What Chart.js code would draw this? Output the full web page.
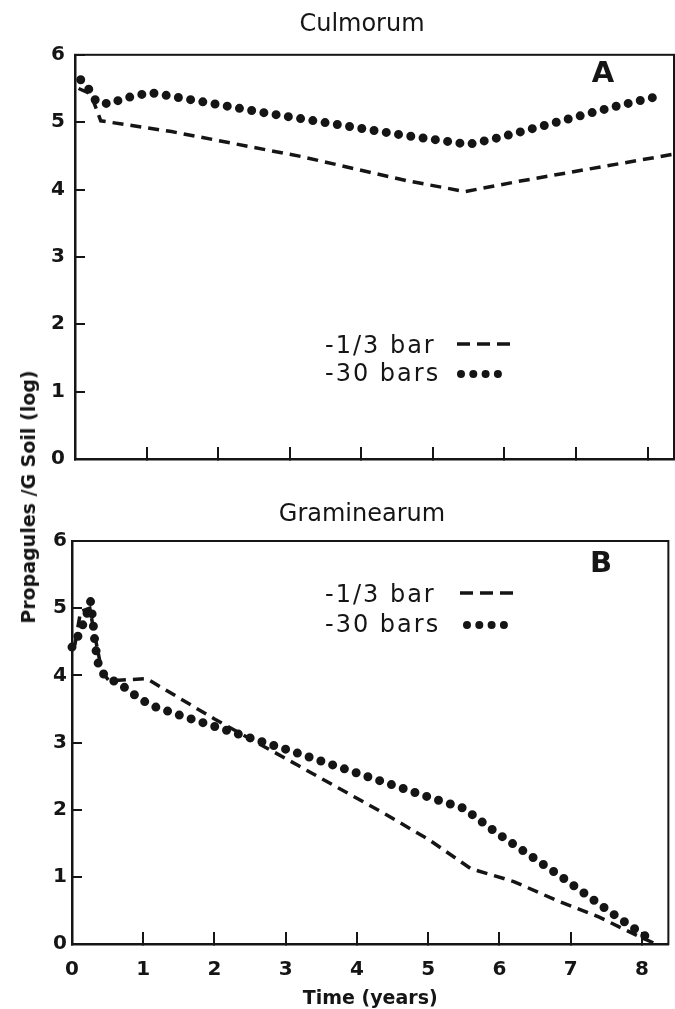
<!DOCTYPE html>
<html>
<head>
<meta charset="utf-8">
<script src="https://cdn.jsdelivr.net/npm/chart.js@4.4.1/dist/chart.umd.min.js"></script>
<style>
  html, body { margin: 0; padding: 0; background: #fff; }
  #page { position: relative; width: 675px; height: 1009px; overflow: hidden; background: #fff; }
  #page canvas { position: absolute; left: 0; }
  #chartA { top: 0; width: 675px; height: 480px; }
  #chartB { top: 480px; width: 675px; height: 529px; }
  #yTitle {
    position: absolute; left: 28px; top: 497px;
    transform: translate(-50%, -50%) rotate(-90deg);
    font: bold 19px 'DejaVu Sans', sans-serif; color: #151515; white-space: nowrap;
  }
</style>
</head>
<body>
<div id="page">
  <canvas id="chartA" width="675" height="480"></canvas>
  <canvas id="chartB" width="675" height="529"></canvas>
  <div id="yTitle">Propagules /G Soil (log)</div>
</div>
<script>
const INK = '#151515';
const FONT = "'DejaVu Sans', sans-serif";

// Panel A - Culmorum (time in years, log propagules / g soil)
const timeA_wet = [0.05, 0.22, 0.36, 1.35, 3.16, 4.64, 5.45, 6.19, 8.34];
const propA_wet = [5.5, 5.42, 5.02, 4.86, 4.49, 4.13, 3.97, 4.12, 4.52];
const timeA_dry = [0.08, 0.2, 0.3, 0.49, 0.67, 1.05, 2.7, 4.57, 5.5, 5.92, 6.59, 7.5, 8.09];
const propA_dry = [5.63, 5.48, 5.3, 5.27, 5.35, 5.44, 5.13, 4.81, 4.67, 4.77, 4.96, 5.22, 5.37];

// Panel B - Graminearum
const timeB_wet = [0.04, 0.12, 0.25, 0.3, 0.42, 0.52, 1.05, 2.0, 3.17, 4.37, 5.0, 5.6, 6.2, 6.8, 7.4, 8.0, 8.2];
const propB_wet = [4.45, 4.95, 5.0, 4.7, 4.05, 3.92, 3.95, 3.35, 2.66, 1.95, 1.56, 1.12, 0.93, 0.65, 0.4, 0.09, 0.0];
const timeB_dry = [0.0, 0.07, 0.14, 0.22, 0.26, 0.29, 0.32, 0.36, 0.43, 0.53, 0.7, 0.85, 1.0, 1.17, 1.5, 2.0, 2.67, 3.03, 3.93, 4.97, 5.5, 5.94, 6.87, 7.51, 8.0, 8.17];
const propB_dry = [4.42, 4.55, 4.72, 4.95, 5.1, 4.85, 4.5, 4.2, 4.03, 3.95, 3.85, 3.73, 3.62, 3.53, 3.41, 3.24, 3.01, 2.89, 2.57, 2.2, 2.02, 1.67, 1.0, 0.51, 0.15, 0.03];

const seriesLabels = ['-1/3 bar', '-30 bars'];
const panelTitles = ['Culmorum', 'Graminearum'];
const panelLetters = ['A', 'B'];
const xLabel = 'Time (years)';
const xMax = 8.37;
const yMax = 6;

const toPoints = (xs, ys) => xs.map((x, i) => ({ x: x, y: ys[i] }));

// frame, panel letter and the hand-lettered legend
const panelDecor = {
  id: 'panelDecor',
  afterDraw(chart, args, opts) {
    const ctx = chart.ctx;
    const { left, top, right, bottom } = chart.chartArea;
    ctx.save();
    ctx.strokeStyle = INK;
    ctx.fillStyle = INK;
    ctx.lineWidth = 2;
    ctx.strokeRect(left, top, right - left, bottom - top);

    ctx.font = 'bold 29px ' + FONT;
    ctx.textAlign = 'center';
    ctx.textBaseline = 'middle';
    ctx.fillText(opts.letter, opts.letterX, opts.letterY);

    ctx.font = '24px ' + FONT;
    ctx.letterSpacing = '2px';
    ctx.textAlign = 'left';
    ctx.fillText(seriesLabels[0], opts.legendX, opts.legendY[0]);
    ctx.fillText(seriesLabels[1], opts.legendX, opts.legendY[1]);
    ctx.letterSpacing = '0px';

    ctx.lineWidth = 3.5;
    ctx.setLineDash([13, 7]);
    ctx.beginPath();
    ctx.moveTo(opts.dashFrom, opts.legendY[0] - 3);
    ctx.lineTo(opts.dashFrom + 53, opts.legendY[0] - 3);
    ctx.stroke();

    ctx.lineWidth = 8;
    ctx.lineCap = 'round';
    ctx.setLineDash([0, 12.3]);
    ctx.beginPath();
    ctx.moveTo(opts.dotFrom, opts.legendY[1] - 1);
    ctx.lineTo(opts.dotFrom + 37.5, opts.legendY[1] - 1);
    ctx.stroke();
    ctx.restore();
  }
};

function makePanel(canvasId, p) {
  return new Chart(document.getElementById(canvasId).getContext('2d'), {
    type: 'scatter',
    data: {
      datasets: [{
        label: seriesLabels[0],
        data: toPoints(p.wetX, p.wetY),
        showLine: true,
        borderColor: INK,
        borderWidth: 3.5,
        borderDash: [11, 7],
        pointRadius: 0,
        clip: false
      }, {
        label: seriesLabels[1],
        data: toPoints(p.dryX, p.dryY),
        showLine: true,
        borderColor: INK,
        borderWidth: 9,
        borderDash: [0, 12.4],
        borderCapStyle: 'round',
        borderJoinStyle: 'round',
        pointRadius: 0,
        clip: false
      }]
    },
    options: {
      responsive: false,
      animation: false,
      layout: { padding: { left: 50, right: 1, top: 0, bottom: 0 } },
      plugins: {
        legend: { display: false },
        tooltip: { enabled: false },
        title: {
          display: true,
          text: p.title,
          color: INK,
          font: { family: FONT, size: 24, weight: 'normal', lineHeight: 1.2 },
          padding: { top: p.titleTop, bottom: p.titleBottom }
        },
        panelDecor: p.decor
      },
      scales: {
        x: {
          type: 'linear',
          position: 'bottom',
          min: 0,
          max: xMax,
          ticks: {
            stepSize: 1,
            includeBounds: false,
            display: p.showX,
            autoSkip: false,
            maxRotation: 0,
            color: INK,
            padding: 26,
            font: { family: FONT, size: 20, weight: 'bold' }
          },
          grid: { drawOnChartArea: false, drawTicks: true, tickLength: -12, color: INK, lineWidth: 2 },
          border: { display: true, color: INK, width: 2.5 },
          title: {
            display: p.showX,
            text: xLabel,
            color: INK,
            padding: 0,
            font: { family: FONT, size: 19, weight: 'bold', lineHeight: 1 }
          },
          afterFit: s => { s.height = p.xHeight; }
        },
        y: {
          type: 'linear',
          position: 'left',
          min: 0,
          max: yMax,
          ticks: {
            stepSize: 1,
            color: INK,
            padding: p.yPad,
            font: { family: FONT, size: 20, weight: 'bold' }
          },
          grid: { drawOnChartArea: false, drawTicks: true, tickLength: -10, color: INK, lineWidth: 2 },
          border: { display: true, color: INK, width: 2.5 },
          afterFit: s => {
            s.width = p.yWidth;
            s.paddingTop = 0;
            s.paddingBottom = 0;
          }
        }
      }
    },
    plugins: [panelDecor]
  });
}

makePanel('chartA', {
  title: panelTitles[0],
  wetX: timeA_wet, wetY: propA_wet,
  dryX: timeA_dry, dryY: propA_dry,
  showX: false,
  titleTop: 10, titleBottom: 16,
  xHeight: 21,
  yWidth: 25,
  yPad: 20,
  decor: { letter: panelLetters[0], letterX: 603, letterY: 74, legendX: 325, legendY: [347, 375], dashFrom: 457, dotFrom: 461 }
});

makePanel('chartB', {
  title: panelTitles[1],
  wetX: timeB_wet, wetY: propB_wet,
  dryX: timeB_dry, dryY: propB_dry,
  showX: true,
  titleTop: 20.6, titleBottom: 11.6,
  xHeight: 65,
  yWidth: 22,
  yPad: 15,
  decor: { letter: panelLetters[1], letterX: 601, letterY: 84, legendX: 325, legendY: [116, 146], dashFrom: 460, dotFrom: 467 }
});
</script>
</body>
</html>
